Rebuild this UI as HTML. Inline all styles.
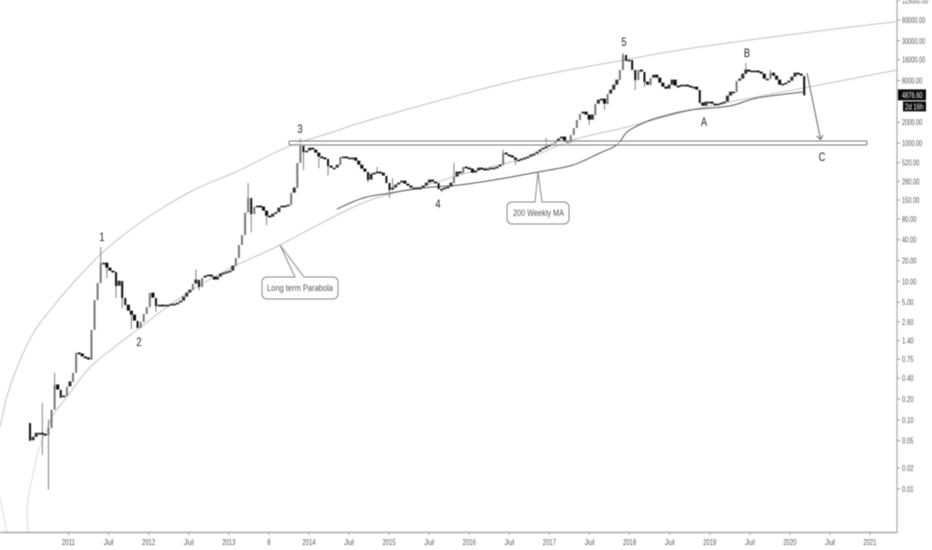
<!DOCTYPE html>
<html lang="en">
<head>
<meta charset="utf-8">
<title>Bitcoin weekly log chart</title>
<style>
html,body{margin:0;padding:0;background:#fff;width:932px;height:550px;overflow:hidden}
svg{display:block;filter:blur(0.4px)}
text{font-family:"Liberation Sans",sans-serif}
</style>
</head>
<body>
<svg id="chart" width="932" height="550" viewBox="0 0 932 550" xmlns="http://www.w3.org/2000/svg">
  <defs><clipPath id="plot-clip"><rect x="0" y="0" width="897" height="532"></rect></clipPath></defs>
  <g id="curves" clip-path="url(#plot-clip)"></g>
  <g id="ma"></g>
  <g id="candles"></g>
  <g id="draw"></g>
  <line x1="0" y1="532.5" x2="897" y2="532.5" stroke="#aaa" stroke-width="1.5"></line>
  <line x1="897" y1="0" x2="897" y2="533" stroke="#aaa" stroke-width="1.2"></line>
  <g id="xaxis"></g>
  <g id="yaxis"></g>
</svg>
<script>
// ---- Chart data ----
const startYear = 2010.52;
const stepYears = 14 / 365.25;
const firstOpen = 0.0897;
const closes = [
0.05,0.056,0.064,0.064,0.062,0.060,0.076,0.14,0.32,0.27,
0.208,0.222,0.30,0.354,0.477,0.927,0.897,0.812,0.786,0.735,
1.99,5.38,9.46,18.4,18.4,15.6,14.1,13.7,8.56,10.1,
5.75,4.55,3.73,3.27,2.68,2.12,2.59,3.38,4.26,6.79,
5.75,4.40,4.55,4.40,4.55,4.55,4.70,4.70,4.87,5.20,
5.94,6.79,7.50,9.17,10.5,8.29,11.2,12.0,12.4,11.6,
10.5,11.6,12.8,13.2,13.7,14.1,16.7,21.8,33.6,46.7,
99,160,94,119,123,119,104,88,85,94,
99,115,123,123,127,189,224,514,906,740,
766,844,795,716,630,609,588,465,435,435,
480,630,630,609,609,609,548,480,421,381,
292,355,368,381,368,334,264,209,224,247,
264,282,255,239,224,224,224,224,239,264,
292,273,264,216,216,224,231,264,323,381,
368,450,435,421,368,394,435,421,407,421,
435,435,450,480,716,673,652,609,567,567,
588,609,630,673,695,740,795,844,877,936,
968,1034,1142,1221,1034,1000,1305,1647,2149,2624,
2804,2538,2149,2538,3658,4178,4319,3658,5100,5825,
6877,8120,11350,18700,15300,15800,11350,8120,11350,10600,
7598,6877,8678,9588,8678,7350,6435,6021,6877,8120,
6652,6435,6877,6877,6652,6435,6435,5825,3782,3423,
3909,3909,3658,3538,3658,3782,3909,4772,5450,5450,
7855,8394,9912,11350,10600,11000,11000,10600,9912,8394,
8394,10250,9274,8120,6877,7110,7350,7855,8971,10250,
9912,9274,4877];
const wickIndex = [0,4,6,8,23,25,28,30,33,41,54,55,71,72,77,88,89,94,97,110,113,117,118,134,138,154,158,168,182,187,193,197,200,233,241];
const wickHigh = [0.0897,0.174,0.1,0.477,31.4,null,null,null,null,null,15,null,264,null,null,1150,null,null,null,null,450,null,310,null,514,795,null,1181,null,null,20000,null,null,14330,11400];
const wickLow = [0.049,0.031,0.0097,null,null,11.2,5.75,4.1,2.05,3.6,null,7.4,null,51,65,null,407,435,340,270,null,160,null,195,null,null,480,null,1820,3000,null,5825,6435,null,null];
const maYears = [2014.35,2014.67,2015.01,2015.42,2015.88,2016.38,2016.86,2017.29,2017.63,2017.84,2017.97,2018.17,2018.38,2018.76,2019.25,2019.59,2020.16];
const maPrices = [111,160,189,224,247,302,381,480,716,936,1442,1945,2375,3000,3423,4465,5450];
const upperYears = [2010.145,2010.23,2010.36,2010.56,2010.77,2010.98,2011.39,2011.8,2012.23,2012.64,2013.14,2013.73,2014.26,2014.76,2015.88,2016.72,2017.92,2018.88,2020.46,2021.32];
const upperPrices = [0.0786,0.2135,0.578,1.79,3.84,7.5,24.1,59,127,231,407,877,1395,2149,4934,8678,15800,24500,43000,56500];
const lowerYears = [2010.74,2010.81,2010.98,2011.27,2011.61,2011.87,2012.23,2012.64,2013.05,2013.26,2013.64,2014.67,2015.51,2016.01,2016.76,2017.29,2017.97,2018.88,2020.17,2021.34];
const lowerPrices = [0.0786,0.12,0.2135,0.578,1.21,2.05,4.26,8.85,16.2,21,33.6,136,255,381,630,1105,1703,3203,6225,11350];
const tailYears = [2010.49,2010.49,2010.56,2010.64,2010.74];
const tailPrices = [0.00239,0.00628,0.017,0.0404,0.0786];
const leftYears = [2010.145,2010.23];
const leftPrices = [0.00766,0.00239];
const yTicks = [115000,60000,30000,16000,8000,2000,1000,520,280,150,80,40,20,10,5,2.6,1.4,0.75,0.4,0.2,0.1,0.05,0.02,0.01];
const xTickYears = [2011,2011.5,2012,2012.5,2013,2013.5,2014,2014.5,2015,2015.5,2016,2016.5,2017,2017.5,2018,2018.5,2019,2019.5,2020,2020.5,2021];
const xTickLabels = ["2011","Jul","2012","Jul","2013","8","2014","Jul","2015","Jul","2016","Jul","2017","Jul","2018","Jul","2019","Jul","2020","Jul","2021"];
const lastPrice = 4876.6;
const lastPriceLabel = "4876.60";
const countdownLabel = "2d 16h";

// ---- Axis functions ----
function xOf(year){ return 68.5 + (year - 2011) * 80.15; }
function yOf(price){ return 143 - 69.2 * Math.log10(price / 1000); }

const NS = "http://www.w3.org/2000/svg";
function make(tag, parent, attrs, txt){
  const el = document.createElementNS(NS, tag);
  for (const k in attrs) el.setAttribute(k, attrs[k]);
  if (txt !== undefined) el.textContent = txt;
  parent.appendChild(el);
  return el;
}
function smooth(pts){
  let d = "M" + pts[0][0].toFixed(1) + " " + pts[0][1].toFixed(1);
  for (let i = 0; i < pts.length - 1; i++){
    const p0 = pts[Math.max(i - 1, 0)], p1 = pts[i], p2 = pts[i + 1], p3 = pts[Math.min(i + 2, pts.length - 1)];
    const c1x = p1[0] + (p2[0] - p0[0]) / 6, c1y = p1[1] + (p2[1] - p0[1]) / 6;
    const c2x = p2[0] - (p3[0] - p1[0]) / 6, c2y = p2[1] - (p3[1] - p1[1]) / 6;
    d += "C" + c1x.toFixed(1) + " " + c1y.toFixed(1) + " " + c2x.toFixed(1) + " " + c2y.toFixed(1) + " " + p2[0].toFixed(1) + " " + p2[1].toFixed(1);
  }
  return d;
}
function curvePts(years, prices){ return years.map(function(y, i){ return [xOf(y), yOf(prices[i])]; }); }

// ---- Parabolas ----
const curvesG = document.getElementById("curves");
const upperPath = make("path", curvesG, {d: smooth(curvePts(upperYears, upperPrices)), fill: "none", stroke: "#c2c2c2", "stroke-width": 1});


const lowerPath = make("path", curvesG, {d: smooth(curvePts(lowerYears, lowerPrices)), fill: "none", stroke: "#c2c2c2", "stroke-width": 1});


const tailPath = make("path", curvesG, {d: smooth(curvePts(tailYears, tailPrices)), fill: "none", stroke: "#bbb", "stroke-width": 1, "stroke-dasharray": "1 1"});


const leftPath = make("path", curvesG, {d: smooth(curvePts(leftYears, leftPrices)), fill: "none", stroke: "#bbb", "stroke-width": 1, "stroke-dasharray": "1 1"});



// ---- 200 weekly MA ----
const maPath = make("path", document.getElementById("ma"), {d: smooth(curvePts(maYears, maPrices)), fill: "none", stroke: "#555", "stroke-width": 1});



// ---- Candles ----
const candlesG = document.getElementById("candles");
closes.forEach(function(close, i){
  const x = xOf(startYear + i * stepYears);
  const open = i === 0 ? firstOpen : closes[i - 1];
  const w = wickIndex.indexOf(i);
  const up = close >= open;
  if (w >= 0){
    const hi = wickHigh[w] === null ? Math.max(open, close) : wickHigh[w];
    const lo = wickLow[w] === null ? Math.min(open, close) : wickLow[w];
    const wick = make("line", candlesG, {x1: x, x2: x, y1: yOf(hi), y2: yOf(lo), stroke: "#808080", "stroke-width": 1});
    
    
  }
  const top = Math.min(yOf(open), yOf(close));
  const h = Math.max(Math.abs(yOf(open) - yOf(close)), 1.8);
  const tall = Math.abs(yOf(open) - yOf(close)) > 6;
  const body = make("rect", candlesG, {x: x - (tall ? 1 : 1.55), y: top - (tall ? 0 : 0.4), width: tall ? 2 : 3.1, height: h, fill: up ? (tall ? "#777" : "#333") : "#0c0c0c"});
  
  
});

// ---- Drawings ----
const drawG = document.getElementById("draw");
const band = make("rect", drawG, {x: 289, y: 141, width: 578, height: 4, rx: 1.5, fill: "#fff", "fill-opacity": 0.55, stroke: "#777", "stroke-width": 1});


const arrow = make("path", drawG, {d: "M807 73L820.5 139M816.5 136L820.5 139.5L823 135", fill: "none", stroke: "#666", "stroke-width": 1});



const callout1 = make("path", drawG, {d: "M267 277H295L280 245L304 277H333a5 5 0 0 1 5 5V294a5 5 0 0 1-5 5H267a5 5 0 0 1-5-5V282a5 5 0 0 1 5-5Z", fill: "#fff", stroke: "#888", "stroke-width": 1});


const callout1Text = make("text", drawG, {x: 267, y: 291, "font-size": 9.5, fill: "#555", textLength: 66, lengthAdjust: "spacingAndGlyphs"}, "Long term Parabola");


const callout2 = make("path", drawG, {d: "M512 202H535L538 172L542 202H564a5 5 0 0 1 5 5V219a5 5 0 0 1-5 5H512a5 5 0 0 1-5-5V207a5 5 0 0 1 5-5Z", fill: "#fff", stroke: "#888", "stroke-width": 1});


const callout2Text = make("text", drawG, {x: 513, y: 216, "font-size": 9.5, fill: "#555", textLength: 51, lengthAdjust: "spacingAndGlyphs"}, "200 Weekly MA");



const waveLabels = ["1","2","3","4","5","A","B","C"];
const waveX = [102,139,300,438,624,704,747,822];
const waveY = [237,342,129,204,42,122,53,157];
waveLabels.forEach(function(t, i){
  const el = make("text", drawG, {x: waveX[i], y: waveY[i] + 4, "font-size": 12, fill: "#222", "text-anchor": "middle", transform: "translate(" + waveX[i] + " 0) scale(.78 1) translate(" + (-waveX[i]) + " 0)"}, t);
  
  
});

// ---- Axes ----
const xG = document.getElementById("xaxis");
xTickYears.forEach(function(yr, i){
  const x = xOf(yr);
  const tick = make("line", xG, {x1: x, x2: x, y1: 533, y2: 535, stroke: "#999", "stroke-width": 1});
  
  
  const t = xTickLabels[i];
  const lbl = make("text", xG, {x: x, y: 545, "font-size": 8.5, fill: "#555", "text-anchor": "middle", textLength: t.length * 3.3, lengthAdjust: "spacingAndGlyphs"}, t);
  
  
});
const yG = document.getElementById("yaxis");
yTicks.forEach(function(p){
  const y = yOf(p);
  const tick = make("line", yG, {x1: 897, x2: 900, y1: y, y2: y, stroke: "#999", "stroke-width": 1});
  
  
  const t = p.toFixed(2);
  const lbl = make("text", yG, {x: 902, y: y + 3, "font-size": 8.5, fill: "#555", textLength: t.length * 2.9, lengthAdjust: "spacingAndGlyphs"}, t);
  
  
});
const lastY = yOf(lastPrice);
const priceBox = make("rect", yG, {x: 898, y: lastY - 6, width: 28, height: 11, fill: "#0a0a0a"});


const priceTxt = make("text", yG, {x: 902, y: lastY + 2.5, "font-size": 8.5, fill: "#fff", textLength: 20.5, lengthAdjust: "spacingAndGlyphs"}, lastPriceLabel);


const cdBox = make("rect", yG, {x: 903, y: lastY + 6, width: 23, height: 10, fill: "#0a0a0a"});


const cdTxt = make("text", yG, {x: 905, y: lastY + 14, "font-size": 8.5, fill: "#fff", textLength: 18.5, lengthAdjust: "spacingAndGlyphs"}, countdownLabel);


</script>
</body>
</html>
